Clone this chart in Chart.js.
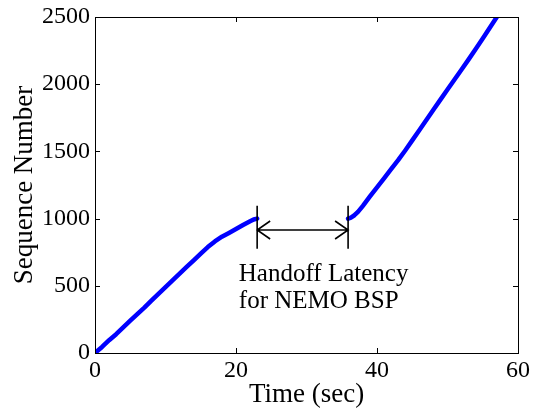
<!DOCTYPE html>
<html>
<head>
<meta charset="utf-8">
<script src="https://cdn.jsdelivr.net/npm/chart.js@4/dist/chart.umd.min.js"></script>
<style>
  html, body { margin: 0; padding: 0; background: #fff; }
  #wrap { width: 536px; height: 412px; position: relative; }
</style>
</head>
<body>
<div id="wrap"><canvas id="c" width="536" height="412"></canvas></div>
<script>
// Sequence number progress before the handoff (time in s, sequence number)
const beforeTime = [0, 1, 2, 3, 4, 5, 6, 7, 8, 9, 10, 11, 12, 13, 14, 15, 16, 17, 18, 19, 20, 21, 22, 22.5, 23];
const beforeSeq  = [0, 45, 95, 140, 190, 240, 290, 338, 390, 440, 490, 540, 590, 640, 690, 740, 788, 830, 865, 893, 922, 952, 980, 993, 1000];

// Sequence number progress after the handoff
const afterTime = [35.9, 36.3, 36.8, 37.3, 38, 39, 40, 41, 42, 43, 44, 45, 46, 47, 48, 49, 50, 51, 52, 53, 54, 55, 56, 57];
const afterSeq  = [1000, 1008, 1025, 1050, 1095, 1165, 1232, 1300, 1368, 1435, 1507, 1582, 1657, 1733, 1810, 1885, 1960, 2035, 2110, 2185, 2262, 2340, 2420, 2500];

// Axis ticks
const timeTicks = [0, 20, 40, 60];
const seqTicks = [0, 500, 1000, 1500, 2000, 2500];

// Handoff latency marker (data coordinates)
const latencyStart = 23;
const latencyEnd = 35.9;
const bracketLow = 775;
const bracketHigh = 1095;
const arrowLevel = 915;
const noteLines = ['Handoff Latency', 'for NEMO BSP'];
const noteTime = 20.4;
const noteSeq = [535, 335];

const serif = "'Liberation Serif', 'Times New Roman', serif";

// Draws the framed axes box with inward ticks, and the latency annotation
const framePlugin = {
  id: 'frame',
  afterDatasetsDraw(chart) {
    const { ctx, chartArea: a, scales: { x, y } } = chart;
    ctx.save();
    ctx.strokeStyle = '#000';
    ctx.lineWidth = 1;
    ctx.strokeRect(Math.round(a.left) + 0.5, Math.round(a.top) + 0.5,
                   Math.round(a.right - a.left), Math.round(a.bottom - a.top));
    const tl = 5;
    ctx.beginPath();
    timeTicks.forEach(v => {
      const px = Math.round(x.getPixelForValue(v)) + 0.5;
      ctx.moveTo(px, a.bottom); ctx.lineTo(px, a.bottom - tl);
      ctx.moveTo(px, a.top); ctx.lineTo(px, a.top + tl);
    });
    seqTicks.forEach(v => {
      const py = Math.round(y.getPixelForValue(v)) + 0.5;
      ctx.moveTo(a.left, py); ctx.lineTo(a.left + tl, py);
      ctx.moveTo(a.right, py); ctx.lineTo(a.right - tl, py);
    });
    ctx.stroke();

    // latency bracket with double-headed arrow
    const x1 = x.getPixelForValue(latencyStart);
    const x2 = x.getPixelForValue(latencyEnd);
    const yLo = y.getPixelForValue(bracketLow);
    const yHi = y.getPixelForValue(bracketHigh);
    const ya = y.getPixelForValue(arrowLevel);
    ctx.lineWidth = 1.6;
    ctx.beginPath();
    ctx.moveTo(x1, yHi); ctx.lineTo(x1, yLo);
    ctx.moveTo(x2, yHi); ctx.lineTo(x2, yLo);
    ctx.moveTo(x1, ya); ctx.lineTo(x2, ya);
    ctx.moveTo(x1 + 13, ya - 9); ctx.lineTo(x1, ya); ctx.lineTo(x1 + 13, ya + 9);
    ctx.moveTo(x2 - 13, ya - 9); ctx.lineTo(x2, ya); ctx.lineTo(x2 - 13, ya + 9);
    ctx.stroke();

    ctx.fillStyle = '#000';
    ctx.font = '25px ' + serif;
    ctx.textAlign = 'left';
    ctx.textBaseline = 'alphabetic';
    const nx = x.getPixelForValue(noteTime);
    noteLines.forEach((t, i) => ctx.fillText(t, nx, y.getPixelForValue(noteSeq[i])));
    ctx.restore();
  }
};

const toPoints = (xs, ys) => xs.map((v, i) => ({ x: v, y: ys[i] }));
const lineStyle = {
  borderColor: '#0000ff',
  borderWidth: 4.5,
  pointRadius: 0,
  showLine: true,
  fill: false,
  tension: 0,
  borderCapStyle: 'round',
  borderJoinStyle: 'round'
};

const plainLabel = v => String(v);

new Chart(document.getElementById('c'), {
  type: 'scatter',
  data: {
    datasets: [
      Object.assign({ data: toPoints(beforeTime, beforeSeq) }, lineStyle),
      Object.assign({ data: toPoints(afterTime, afterSeq) }, lineStyle)
    ]
  },
  options: {
    responsive: false,
    animation: false,
    events: [],
    layout: { padding: { top: 15, right: 15, left: 0, bottom: 0 } },
    plugins: { legend: { display: false }, tooltip: { enabled: false } },
    scales: {
      x: {
        type: 'linear', min: 0, max: 60,
        afterBuildTicks: s => { s.ticks = timeTicks.map(v => ({ value: v })); },
        afterFit: s => { s.height = 59; },
        grid: { display: false, drawTicks: false },
        border: { display: false },
        ticks: { color: '#000', font: { family: serif, size: 24, lineHeight: 1 }, padding: 6, maxRotation: 0, callback: plainLabel },
        title: { display: true, text: 'Time (sec)', color: '#000', font: { family: serif, size: 27 }, padding: { top: 0, bottom: 1 } }
      },
      y: {
        type: 'linear', min: 0, max: 2500,
        afterBuildTicks: s => { s.ticks = seqTicks.map(v => ({ value: v })); },
        afterFit: s => { s.width = 95; },
        grid: { display: false, drawTicks: false },
        border: { display: false },
        ticks: { color: '#000', font: { family: serif, size: 24, lineHeight: 1 }, padding: 5, callback: plainLabel },
        title: { display: true, text: 'Sequence Number', color: '#000', font: { family: serif, size: 27 }, padding: { top: 9, bottom: 0 } }
      }
    }
  },
  plugins: [framePlugin]
});
</script>
</body>
</html>
